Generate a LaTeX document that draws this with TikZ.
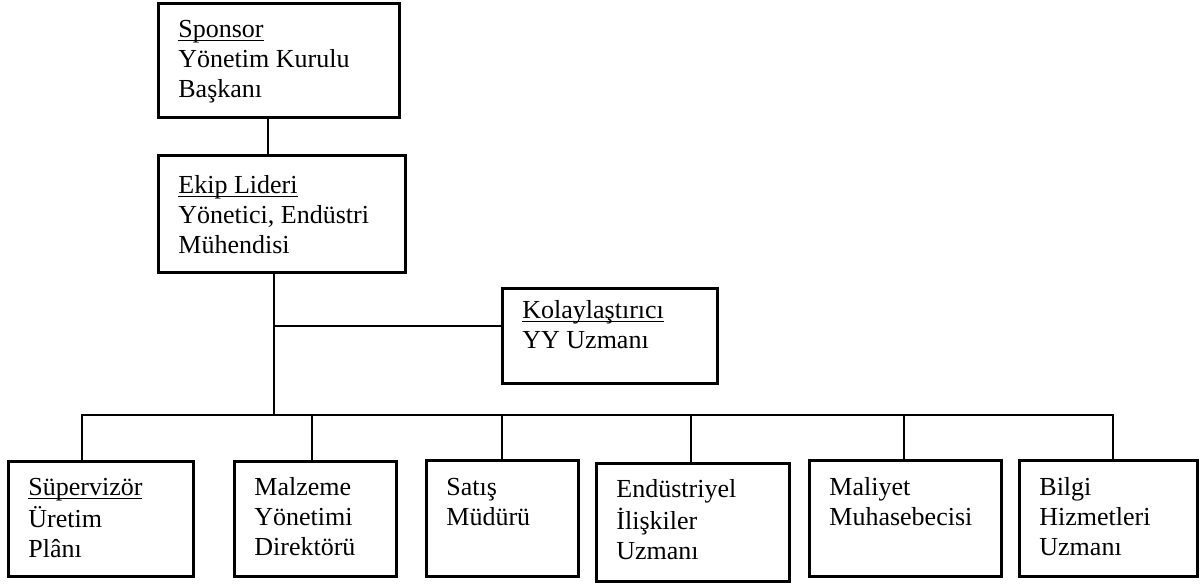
\documentclass[tikz,border=0pt]{standalone}
\usepackage{fontspec}
\setmainfont{Liberation Serif}

% underlined heading word, rule set just below the baseline
\newcommand\hdul[1]{\setbox0\hbox{#1}\rlap{\rule[-2pt]{\wd0}{0.7pt}}\box0}

\tikzset{
  orgbox/.style={draw, line width=1.3pt, inner sep=0pt, anchor=north west},
  orgtext/.style={anchor=north west, inner sep=0pt, align=left,
                  font=\fontsize{13}{15}\selectfont},
  link/.style={line width=1.3pt},
}

% name, left, top, width, height, text drop, text
\newcommand\orgbox[7]{%
  \node[orgbox, minimum width=#4*0.5pt, minimum height=#5*0.5pt] (#1) at (#2,#3) {};
  \node[orgtext] (#1-t) at ([xshift=10.5pt, yshift=-#6*0.5pt]#1.north west) {\strut #7};
}

\begin{document}
\begin{tikzpicture}[x=0.5pt,y=-0.5pt]
\useasboundingbox (0,0) rectangle (1203,585);

\orgbox{sp}{157}{2}{241}{114}{14}{\hdul{Sponsor}\\Yönetim Kurulu\\Başkanı}
\orgbox{el}{157}{154}{247}{117}{18}{\hdul{Ekip Lideri}\\Yönetici, Endüstri\\Mühendisi}
\orgbox{ko}{501}{287}{215}{95}{10}{\hdul{Kolaylaştırıcı}\\YY Uzmanı}
\orgbox{su}{7}{460}{185}{115}{14}{\hdul{Süpervizör}\\Üretim\\Plânı}
\orgbox{ma}{233}{460}{162}{115}{14}{Malzeme\\Yönetimi\\Direktörü}
\orgbox{sa}{425}{459}{152}{116}{15}{Satış\\Müdürü}
\orgbox{en}{595}{462}{193}{118}{14}{Endüstriyel\\İlişkiler\\Uzmanı}
\orgbox{ml}{808}{459}{192}{116}{15}{Maliyet\\Muhasebecisi}
\orgbox{bi}{1018}{459}{178}{116}{15}{Bilgi\\Hizmetleri\\Uzmanı}

% vertical spine
\coordinate (top) at (268,0);
\coordinate (trunk) at (274,0);
\coordinate (kj) at (274,326);
\coordinate (busy) at (0,415);

\draw[link] (sp.south -| top) -- (el.north -| top);
\draw[link] (el.south -| trunk) -- (trunk |- busy);
\draw[link] (kj) -- (ko.west |- kj);

% bus to the team members
\coordinate (d-su) at (82,415);
\coordinate (d-ma) at (312,415);
\coordinate (d-sa) at (502,415);
\coordinate (d-en) at (691,415);
\coordinate (d-ml) at (904,415);
\coordinate (d-bi) at (1113,415);

\draw[link] (su.north -| d-su) -- (d-su) -- (d-bi) -- (bi.north -| d-bi);
\foreach \n in {ma,sa,en,ml}
  \draw[link] (d-\n) -- (\n.north -| d-\n);
\end{tikzpicture}
\end{document}
